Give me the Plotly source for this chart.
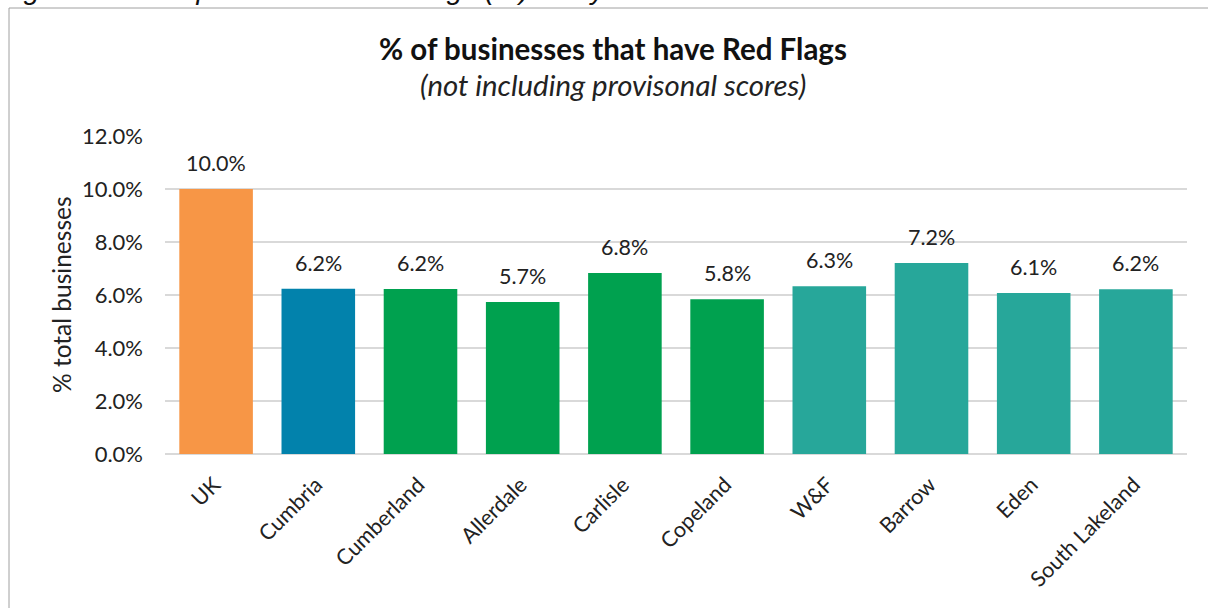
import plotly.graph_objects as go

categories = ["UK", "Cumbria", "Cumberland", "Allerdale", "Carlisle", "Copeland",
              "W&F", "Barrow", "Eden", "South Lakeland"]
values = [0.100, 0.0624, 0.0623, 0.0574, 0.0683, 0.0584, 0.0633, 0.0721, 0.0608, 0.0622]
colors = ["#F79646", "#0282AC", "#00A14F", "#00A14F", "#00A14F", "#00A14F",
          "#27A79A", "#27A79A", "#27A79A", "#27A79A"]
tick_vals = [0, 0.02, 0.04, 0.06, 0.08, 0.10, 0.12]

W, H = 1208, 608
L, R, T, B = 165, 21, 136, 154
pw, ph = W - L - R, H - T - B

def px(x):
    return (x - L) / pw

def py(y):
    return (H - B - y) / ph

FONT = "Lato"

fig = go.Figure(go.Bar(
    x=categories, y=values,
    marker=dict(color=colors, line=dict(width=0)),
    hoverinfo="x+y",
))

label_annotations = [
    dict(x=c, y=v, xref="x", yref="y", text=f"{v * 100:.1f}%", showarrow=False,
         yanchor="middle", yshift=26, font=dict(family=FONT, size=21.5, color="#222"))
    for c, v in zip(categories, values)
]

fig.update_layout(
    width=W, height=H,
    margin=dict(l=L, r=R, t=T, b=B),
    paper_bgcolor="white", plot_bgcolor="white",
    bargap=0.28,
    showlegend=False,
    font=dict(family=FONT, color="#222"),
    xaxis=dict(tickangle=-45, tickfont=dict(family=FONT, size=21.5, color="#222"),
               showgrid=False, showline=False, ticks="",
               ticklabelstandoff=13, ticklabelshift=-2),
    yaxis=dict(range=[0, 0.12], tickvals=tick_vals, tickformat=".1%",
               tickfont=dict(family=FONT, size=22, color="#222"),
               showgrid=True, gridcolor="#D9D9D9", gridwidth=2,
               zeroline=True, zerolinecolor="#D9D9D9", zerolinewidth=2,
               ticks="", ticklabelstandoff=21),
    shapes=[dict(type="rect", xref="paper", yref="paper",
                 x0=px(9), x1=px(1215), y0=py(615), y1=py(8),
                 line=dict(color="#A0A0A0", width=1), layer="below")],
    annotations=label_annotations + [
        dict(text="<b>% of businesses that have Red Flags</b>", xref="paper", yref="paper",
             x=px(613), y=py(49), xanchor="center", yanchor="middle", showarrow=False,
             font=dict(family=FONT, size=29.5, color="#111")),
        dict(text="<i>(not including provisonal scores)</i>", xref="paper", yref="paper",
             x=px(613), y=py(85), xanchor="center", yanchor="middle", showarrow=False,
             font=dict(family=FONT, size=29.4, color="#222")),
        dict(text="% total businesses", xref="paper", yref="paper",
             x=px(61), y=py(295), xanchor="center", yanchor="middle", showarrow=False,
             textangle=-90, font=dict(family=FONT, size=24.5, color="#222")),
        dict(text="<i>Figure 30: Companies with Red Flags (%) - July 2023</i>",
             xref="paper", yref="paper", x=px(-2), y=py(-11), xanchor="left", yanchor="middle",
             showarrow=False, font=dict(family="Liberation Sans", size=28.5, color="#111")),
    ],
)

fig.write_html("out.html", config={"displayModeBar": False},
               post_script="document.body.style.margin='0';")
